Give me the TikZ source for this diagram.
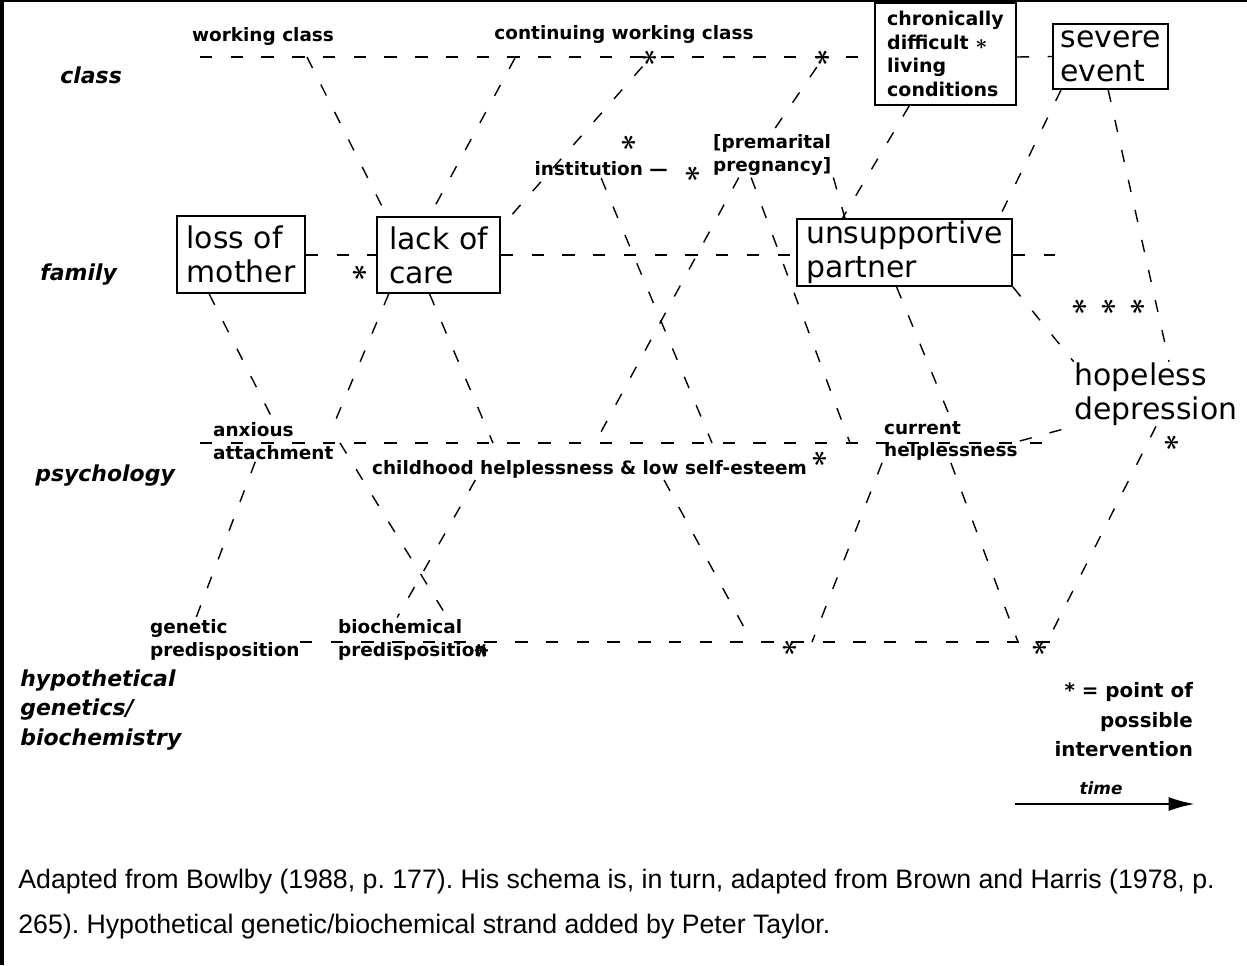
\documentclass[tikz,border=0pt]{standalone}
\usepackage{fontspec}
\setmainfont{DejaVu Sans}
\newfontfamily\capfont{Liberation Sans}
\usetikzlibrary{calc, arrows.meta}
\frenchspacing

\begin{document}
\begin{tikzpicture}[x=0.02cm, y=-0.02cm,
    ev/.style={rectangle, draw, line width=1pt, inner sep=0pt, align=left,
               font=\fontsize{17}{19.3}\selectfont},
    lab/.style={inner sep=1pt, align=left, font=\bfseries\fontsize{10.5}{13}\selectfont},
    lvl/.style={anchor=west, inner sep=0pt, align=left,
                font=\bfseries\itshape\fontsize{12.5}{17}\selectfont},
    ipt/.style={inner sep=0pt, rotate=90, font=\fontsize{16}{16}\selectfont\boldmath},
    dsh/.style={dash pattern=on 7pt off 10.5pt, line width=0.8pt}
]
\useasboundingbox (0,0) rectangle (1247,965);
\draw[line width=2.3pt] (2,0) -- (2,965);
\draw[line width=1.2pt] (0,1) -- (1247,1);

% levels
\node[lvl] (lclass)  at (60,75)  {class};
\node[lvl] (lfamily) at (40,275) {family};
\node[lvl] (lpsych)  at (35,476) {psychology};
\node[lvl] (lgenet)  at (20,710) {hypothetical\\genetics/\\biochemistry};

% boxed events
\node[ev, minimum width=2.56cm, minimum height=1.54cm] (loss)    at (241,254.5)  {loss of\\mother};
\node[ev, minimum width=2.46cm, minimum height=1.52cm] (lack)    at (438.5,255)  {lack of\\care};
\node[ev, minimum width=4.3cm,  minimum height=1.34cm] (partner) at (904.5,252.5) {unsupportive\\partner};
\node[ev, minimum width=2.82cm, minimum height=2.04cm,
      font=\bfseries\fontsize{10.8}{13.4}\selectfont] (chronic) at (945.5,54)
      {chronically\\difficult {\fontsize{12}{12}\selectfont\boldmath$\ast$}\\living\\conditions};
\node[ev, minimum width=2.3cm,  minimum height=1.3cm]  (severe)  at (1110.5,56.5) {severe\\event};
\node[ev, draw=none] (dep) at (1156,394) {hopeless\\depression};

% other events
\node[lab]                             (wclass)  at (263,36)  {working class};
\node[lab]                             (cwclass) at (624,34)  {continuing working class};
\node[lab, fill=white, anchor=east]    (inst)    at (670,169) {institution —};
\node[lab, anchor=west]                (prem)    at (711,155) {[premarital\\pregnancy]};
\node[lab, anchor=west]                (anx)     at (211,441) {anxious\\attachment};
\node[lab, anchor=west]                (child)   at (370,469) {childhood helplessness \& low self-esteem};
\node[lab, anchor=west]                (cur)     at (882,441) {current\\helplessness};
\node[lab, anchor=west]                (genp)    at (148,640) {genetic\\predisposition};
\node[lab, anchor=west]                (biop)    at (336,640) {biochemical\\predisposition};

% intervention points
\node[ipt] (s1)  at (650,58)  {$\ast$};
\node[ipt] (s2)  at (823,58)  {$\ast$};
\node[ipt] (s3)  at (629,143) {$\ast$};
\node[ipt] (s4)  at (693,174) {$\ast$};
\node[ipt] (s5)  at (360,273) {$\ast$};
\node[ipt] (s6)  at (820,459) {$\ast$};
\node[ipt] (s7)  at (482,651) {$\ast$};
\node[ipt] (s8)  at (790,648) {$\ast$};
\node[ipt] (s9)  at (1040,648) {$\ast$};
\node[ipt] (s10) at (1172,443) {$\ast$};
\foreach \x [count=\i] in {1080,1109,1138}
  \node[ipt] (t\i) at (\x,307) {$\ast$};

% strands
\coordinate (cw) at (200,57);
\coordinate (fe) at (1055,255);
\coordinate (pw) at (200,443);
\coordinate (pe) at (1048,443);
\coordinate (gw) at (300,642);
\coordinate (ge) at (1055,642);
\draw[dsh] (cw) -- (chronic.west |- cw);
\draw[dsh] (chronic.east |- cw) -- (severe.west);
\draw[dsh] (loss.east |- lack.east) -- (lack.west);
\draw[dsh] (lack.east) -- (lack.east -| partner.west);
\draw[dsh] (partner.east |- fe) -- (fe);
\draw[dsh] (pw) -- (pe);
\draw[dsh] (gw) -- (ge);

% links between events
\coordinate (c1) at (307,57);
\coordinate (c2) at (515,58);
\coordinate (p2) at (340,443);
\coordinate (p3) at (493,443);
\coordinate (p4) at (595,443);
\coordinate (p5) at (712,443);
\coordinate (p6) at (850,443);
\coordinate (g1) at (752,642);
\coordinate (g2) at (812,642);
\coordinate (g3) at (1018,642);
\coordinate (g4) at (1047,642);
\draw[dsh] (c1) -- (lack.143);
\draw[dsh] (c2) -- (lack.103);
\draw[dsh] (s1) -- (lack.24);
\draw[dsh] (s2) -- (prem.north);
\draw[dsh] (loss.231) -- (anx.north);
\draw[dsh] (lack.218) -- (anx.north east);
\draw[dsh] (lack.257) -- (p3);
\draw[dsh] (inst.south) -- (p5);
\draw[dsh] (prem.214) -- (p4);
\draw[dsh] (prem.227) -- (p6);
\draw[dsh] (prem.south east) -- (partner.150);
\draw[dsh] (chronic.235) -- (partner.151);
\draw[dsh] (severe.214) -- (partner.20);
\draw[dsh] (severe.266) -- (dep.68);
\draw[dsh] (partner.257) -- (cur.north);
\draw[dsh] (partner.south east) -- (dep.north west);
\draw[dsh] (anx.229) -- (genp.142);
\draw[dsh] (p2) -- (biop.33);
\draw[dsh] ($(child.south west)!0.24!(child.south east)$) -- (biop.125);
\draw[dsh] ($(child.south west)!0.67!(child.south east)$) -- (g1);
\draw[dsh] (cur.south west) -- (g2);
\draw[dsh] (cur.south) -- (g3);
\draw[dsh] (cur.east) -- (dep.south west);
\draw[dsh] (dep.south) -- (g4);

% key and time
\node[lab, align=right, anchor=north east, font=\bfseries\fontsize{11.3}{17}\selectfont]
      (key) at (1195,680) {* = point of\\possible\\intervention};
\node[font=\bfseries\itshape\fontsize{9.6}{11}\selectfont] (time) at (1101,788) {time};
\coordinate (t0) at (1015,804);
\coordinate (t1) at (1195,804);
\draw[line width=1.5pt, -{Latex[length=15pt,width=8pt]}] (t0) -- (t1);

% source
\node[anchor=base west, inner sep=0pt, font=\capfont\fontsize{15.2}{18}\selectfont] (cap1) at (18,888)
  {Adapted from Bowlby (1988, p. 177). His schema is, in turn, adapted from Brown and Harris (1978, p.};
\node[anchor=base west, inner sep=0pt, font=\capfont\fontsize{15.2}{18}\selectfont] (cap2) at (18,933)
  {265). Hypothetical genetic/biochemical strand added by Peter Taylor.};

\end{tikzpicture}
\end{document}
